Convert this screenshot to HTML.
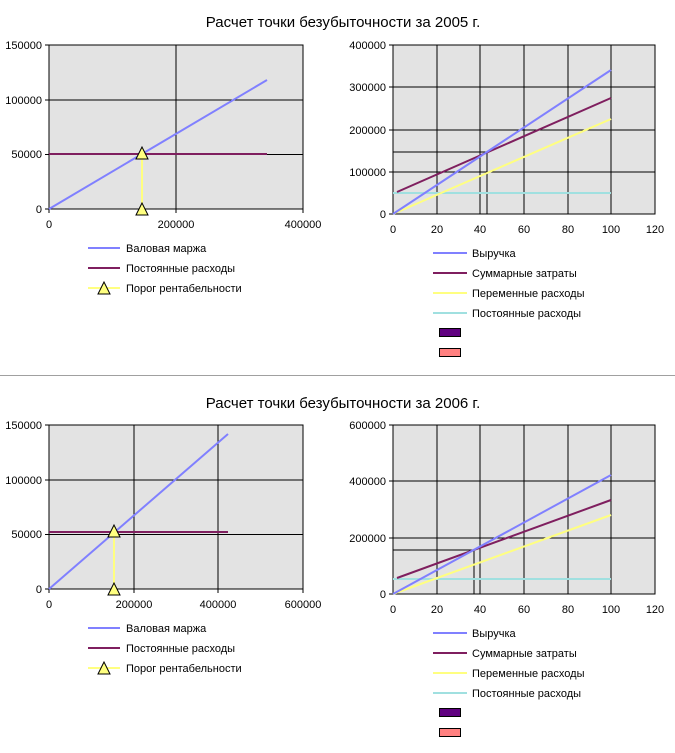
<!DOCTYPE html>
<html><head><meta charset="utf-8"><style>
html,body{margin:0;padding:0;background:#fff;}
svg{display:block;font-family:"Liberation Sans",Arial,sans-serif;}
</style></head><body>
<svg width="675" height="753" viewBox="0 0 675 753" xmlns="http://www.w3.org/2000/svg">
<g font-size="15" fill="#000" text-anchor="middle">
<text x="343" y="27">Расчет точки безубыточности за 2005 г.</text>
<text x="343" y="408">Расчет точки безубыточности за 2006 г.</text>
</g>
<line x1="0" y1="375.5" x2="675" y2="375.5" stroke="#a0a0a0" stroke-width="1"/>

<!-- Top-left -->
<g>
<rect x="49" y="45" width="254" height="164" fill="#e3e3e3" stroke="#000"/>
<g stroke="#000" stroke-width="1">
<line x1="49" y1="100" x2="303" y2="100"/><line x1="49" y1="154.5" x2="303" y2="154.5"/>
<line x1="176" y1="45" x2="176" y2="209"/>
<line x1="45" y1="45" x2="49" y2="45"/><line x1="45" y1="100" x2="49" y2="100"/><line x1="45" y1="154.5" x2="49" y2="154.5"/><line x1="45" y1="209" x2="49" y2="209"/>
<line x1="49" y1="209" x2="49" y2="213"/><line x1="176" y1="209" x2="176" y2="213"/><line x1="303" y1="209" x2="303" y2="213"/>
</g>
<line x1="49" y1="209" x2="267" y2="80" stroke="#8080ff" stroke-width="2"/>
<line x1="49" y1="154" x2="267" y2="154" stroke="#7f1f5f" stroke-width="2"/>
<line x1="142" y1="154" x2="142" y2="209" stroke="#ffff80" stroke-width="2"/>
<polygon points="142,147 136,159 148,159" fill="#ffff80" stroke="#000"/>
<polygon points="142,203 136,215 148,215" fill="#ffff80" stroke="#000"/>
<g font-size="11" text-anchor="end"><text x="42" y="49">150000</text><text x="42" y="104">100000</text><text x="42" y="158">50000</text><text x="42" y="213">0</text></g>
<g font-size="11" text-anchor="middle"><text x="49" y="228">0</text><text x="176" y="228">200000</text><text x="303" y="228">400000</text></g>
<line x1="88" y1="248" x2="120" y2="248" stroke="#8080ff" stroke-width="2"/>
<line x1="88" y1="268" x2="120" y2="268" stroke="#7f1f5f" stroke-width="2"/>
<line x1="88" y1="288" x2="120" y2="288" stroke="#ffff80" stroke-width="2"/>
<polygon points="104,282 98,294 110,294" fill="#ffff80" stroke="#000"/>
<g font-size="11"><text x="126" y="252">Валовая маржа</text><text x="126" y="272">Постоянные расходы</text><text x="126" y="292">Порог рентабельности</text></g>
</g>

<!-- Top-right -->
<g>
<rect x="393" y="45" width="262" height="169" fill="#e3e3e3" stroke="#000"/>
<g stroke="#000">
<line x1="393" y1="87" x2="655" y2="87"/><line x1="393" y1="130" x2="655" y2="130"/><line x1="393" y1="172" x2="655" y2="172"/>
<line x1="437" y1="45" x2="437" y2="214"/><line x1="480" y1="45" x2="480" y2="214"/><line x1="524" y1="45" x2="524" y2="214"/><line x1="568" y1="45" x2="568" y2="214"/><line x1="611" y1="45" x2="611" y2="214"/>
<line x1="393" y1="152" x2="487" y2="152"/><line x1="487" y1="152" x2="487" y2="214"/>
<line x1="389" y1="45" x2="393" y2="45"/><line x1="389" y1="87" x2="393" y2="87"/><line x1="389" y1="130" x2="393" y2="130"/><line x1="389" y1="172" x2="393" y2="172"/><line x1="389" y1="214" x2="393" y2="214"/>
</g>
<line x1="393" y1="193" x2="611" y2="193" stroke="#a0e0e0" stroke-width="2"/>
<line x1="393" y1="214" x2="611" y2="119" stroke="#ffff80" stroke-width="2"/>
<line x1="397" y1="192" x2="611" y2="98" stroke="#7f1f5f" stroke-width="2"/>
<line x1="393" y1="214" x2="611" y2="70" stroke="#8080ff" stroke-width="2"/>
<g font-size="11" text-anchor="end"><text x="386" y="49">400000</text><text x="386" y="91">300000</text><text x="386" y="134">200000</text><text x="386" y="176">100000</text><text x="386" y="218">0</text></g>
<g font-size="11" text-anchor="middle"><text x="393" y="233">0</text><text x="437" y="233">20</text><text x="480" y="233">40</text><text x="524" y="233">60</text><text x="568" y="233">80</text><text x="611" y="233">100</text><text x="655" y="233">120</text></g>
<line x1="433" y1="253" x2="467" y2="253" stroke="#8080ff" stroke-width="2"/>
<line x1="433" y1="273" x2="467" y2="273" stroke="#7f1f5f" stroke-width="2"/>
<line x1="433" y1="293" x2="467" y2="293" stroke="#ffff80" stroke-width="2"/>
<line x1="433" y1="313" x2="467" y2="313" stroke="#a0e0e0" stroke-width="2"/>
<rect x="439.5" y="328.5" width="21" height="8" fill="#600080" stroke="#000"/>
<rect x="439.5" y="348.5" width="21" height="8" fill="#ff8080" stroke="#000"/>
<g font-size="11"><text x="472" y="257">Выручка</text><text x="472" y="277">Суммарные затраты</text><text x="472" y="297">Переменные расходы</text><text x="472" y="317">Постоянные расходы</text></g>
</g>

<!-- Bottom-left -->
<g>
<rect x="49" y="425" width="254" height="164" fill="#e3e3e3" stroke="#000"/>
<g stroke="#000">
<line x1="49" y1="480" x2="303" y2="480"/><line x1="49" y1="534.5" x2="303" y2="534.5"/>
<line x1="134" y1="425" x2="134" y2="589"/><line x1="218" y1="425" x2="218" y2="589"/>
<line x1="45" y1="425" x2="49" y2="425"/><line x1="45" y1="480" x2="49" y2="480"/><line x1="45" y1="534.5" x2="49" y2="534.5"/><line x1="45" y1="589" x2="49" y2="589"/>
<line x1="49" y1="589" x2="49" y2="593"/><line x1="134" y1="589" x2="134" y2="593"/><line x1="218" y1="589" x2="218" y2="593"/><line x1="303" y1="589" x2="303" y2="593"/>
</g>
<line x1="49" y1="589" x2="228" y2="434" stroke="#8080ff" stroke-width="2"/>
<line x1="49" y1="532" x2="228" y2="532" stroke="#7f1f5f" stroke-width="2"/>
<line x1="114" y1="532" x2="114" y2="589" stroke="#ffff80" stroke-width="2"/>
<polygon points="114,525 108,537 120,537" fill="#ffff80" stroke="#000"/>
<polygon points="114,583 108,595 120,595" fill="#ffff80" stroke="#000"/>
<g font-size="11" text-anchor="end"><text x="42" y="429">150000</text><text x="42" y="484">100000</text><text x="42" y="538">50000</text><text x="42" y="593">0</text></g>
<g font-size="11" text-anchor="middle"><text x="49" y="608">0</text><text x="134" y="608">200000</text><text x="218" y="608">400000</text><text x="303" y="608">600000</text></g>
<line x1="88" y1="628" x2="120" y2="628" stroke="#8080ff" stroke-width="2"/>
<line x1="88" y1="648" x2="120" y2="648" stroke="#7f1f5f" stroke-width="2"/>
<line x1="88" y1="668" x2="120" y2="668" stroke="#ffff80" stroke-width="2"/>
<polygon points="104,662 98,674 110,674" fill="#ffff80" stroke="#000"/>
<g font-size="11"><text x="126" y="632">Валовая маржа</text><text x="126" y="652">Постоянные расходы</text><text x="126" y="672">Порог рентабельности</text></g>
</g>

<!-- Bottom-right -->
<g>
<rect x="393" y="425" width="262" height="169" fill="#e3e3e3" stroke="#000"/>
<g stroke="#000">
<line x1="393" y1="481" x2="655" y2="481"/><line x1="393" y1="538" x2="655" y2="538"/>
<line x1="437" y1="425" x2="437" y2="594"/><line x1="480" y1="425" x2="480" y2="594"/><line x1="524" y1="425" x2="524" y2="594"/><line x1="568" y1="425" x2="568" y2="594"/><line x1="611" y1="425" x2="611" y2="594"/>
<line x1="393" y1="550" x2="474" y2="550"/><line x1="474" y1="550" x2="474" y2="594"/>
<line x1="389" y1="425" x2="393" y2="425"/><line x1="389" y1="481" x2="393" y2="481"/><line x1="389" y1="538" x2="393" y2="538"/><line x1="389" y1="594" x2="393" y2="594"/>
</g>
<line x1="393" y1="579" x2="611" y2="579" stroke="#a0e0e0" stroke-width="2"/>
<line x1="393" y1="594" x2="611" y2="515" stroke="#ffff80" stroke-width="2"/>
<line x1="397" y1="578" x2="611" y2="500" stroke="#7f1f5f" stroke-width="2"/>
<line x1="393" y1="594" x2="611" y2="475" stroke="#8080ff" stroke-width="2"/>
<g font-size="11" text-anchor="end"><text x="386" y="429">600000</text><text x="386" y="485">400000</text><text x="386" y="542">200000</text><text x="386" y="598">0</text></g>
<g font-size="11" text-anchor="middle"><text x="393" y="613">0</text><text x="437" y="613">20</text><text x="480" y="613">40</text><text x="524" y="613">60</text><text x="568" y="613">80</text><text x="611" y="613">100</text><text x="655" y="613">120</text></g>
<line x1="433" y1="633" x2="467" y2="633" stroke="#8080ff" stroke-width="2"/>
<line x1="433" y1="653" x2="467" y2="653" stroke="#7f1f5f" stroke-width="2"/>
<line x1="433" y1="673" x2="467" y2="673" stroke="#ffff80" stroke-width="2"/>
<line x1="433" y1="693" x2="467" y2="693" stroke="#a0e0e0" stroke-width="2"/>
<rect x="439.5" y="708.5" width="21" height="8" fill="#600080" stroke="#000"/>
<rect x="439.5" y="728.5" width="21" height="8" fill="#ff8080" stroke="#000"/>
<g font-size="11"><text x="472" y="637">Выручка</text><text x="472" y="657">Суммарные затраты</text><text x="472" y="677">Переменные расходы</text><text x="472" y="697">Постоянные расходы</text></g>
</g>
</svg>
</body></html>
